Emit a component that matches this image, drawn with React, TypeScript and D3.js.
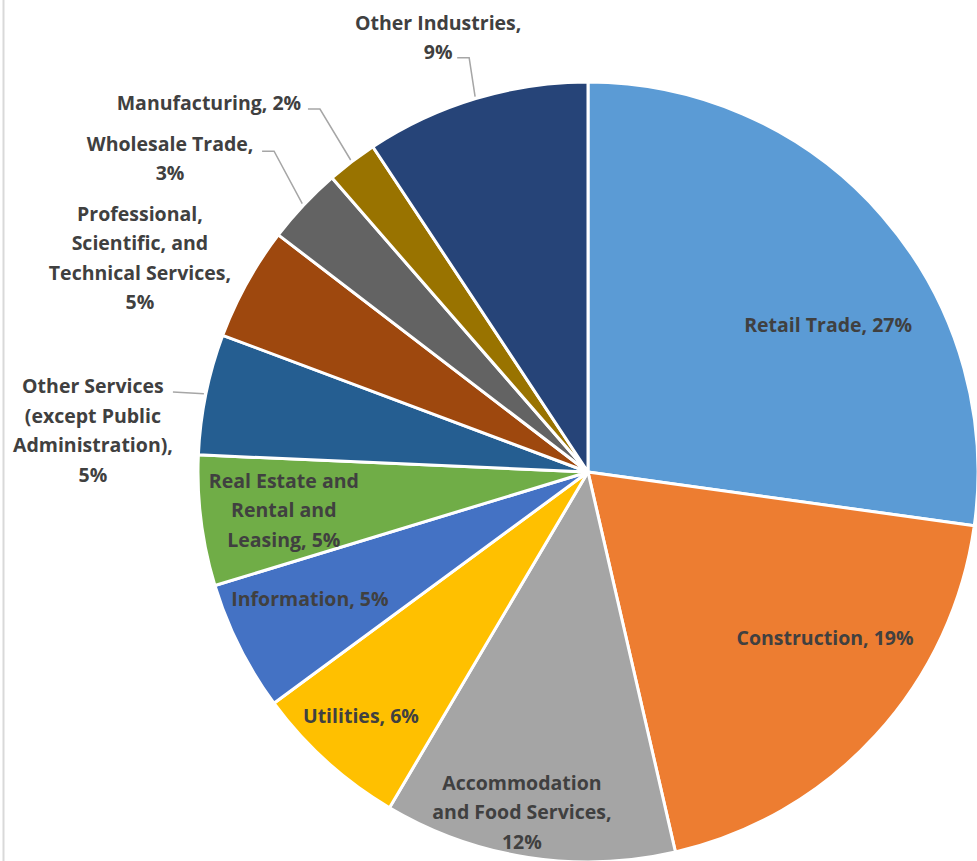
import React from "react";
import * as d3 from "d3";

const categories = [
  "Retail Trade",
  "Construction",
  "Accommodation and Food Services",
  "Utilities",
  "Information",
  "Real Estate and Rental and Leasing",
  "Other Services (except Public Administration)",
  "Professional, Scientific, and Technical Services",
  "Wholesale Trade",
  "Manufacturing",
  "Other Industries",
];
const values = [27.2, 19.2, 12.1, 6.4, 5.4, 5.4, 5.0, 4.7, 3.2, 2.1, 9.3];
const colors = [
  "#5B9BD5", "#ED7D31", "#A5A5A5", "#FFC000", "#4472C4", "#70AD47",
  "#255E91", "#9E480E", "#636363", "#997300", "#264478",
];
// label text broken into lines (last line gets the percentage appended)
const labelLines = [
  ["Retail Trade, "],
  ["Construction, "],
  ["Accommodation", "and Food Services,", ""],
  ["Utilities, "],
  ["Information, "],
  ["Real Estate and", "Rental and", "Leasing, "],
  ["Other Services", "(except Public", "Administration),", ""],
  ["Professional,", "Scientific, and", "Technical Services,", ""],
  ["Wholesale Trade,", ""],
  ["Manufacturing, "],
  ["Other Industries,", ""],
];

// layout: label polar placement (deg clockwise from top, fraction of radius)
const labelAngle = [58.5, 125.0, 191.0, 223.05, 245.6, 262.9, 274.85, 295.6, 306.9, 314.3, 341.0];
const labelRadius = [0.722, 0.742, 0.888, 0.853, 0.783, 0.786, 1.274, 1.274, 1.34, 1.358, 1.18];
// leader start offsets relative to label centre (null = no leader); elbow length
const leaderStart: ([number, number, number] | null)[] = [
  null, null, null, null, null, null,
  [80, -38, 0], null, [92, -7, 12], [99, 7, 12], [19, 21, 12],
];

const W = 977;
const H = 861;
const CX = 588;
const CY = 472;
const R = 390;
const LINE_H = 29.5;

export default function App() {
  const pie = d3.pie<number>().sort(null).value((d) => d);
  const arcs = pie(values);
  const arcGen = d3.arc<d3.PieArcDatum<number>>().innerRadius(0).outerRadius(R);
  const rad = (deg: number) => (deg * Math.PI) / 180;
  const polar = (deg: number, r: number): [number, number] => [
    CX + r * Math.sin(rad(deg)),
    CY - r * Math.cos(rad(deg)),
  ];

  return (
    <svg
      width={W}
      height={H}
      style={{ position: "absolute", left: 0, top: 0, background: "#fff" }}
      fontFamily="'Open Sans', 'Noto Sans', sans-serif"
    >
      <line x1={3.5} x2={3.5} y1={0} y2={H} stroke="#D9D9D9" strokeWidth={2} />
      <g transform={`translate(${CX},${CY})`}>
        {arcs.map((a, i) => (
          <path key={i} d={arcGen(a) || ""} fill={colors[i]} stroke="#fff" strokeWidth={3} strokeLinejoin="round" />
        ))}
      </g>
      {arcs.map((a, i) => {
        const ls = leaderStart[i];
        if (!ls) return null;
        const [lx, ly] = polar(labelAngle[i], labelRadius[i] * R);
        const mid = ((a.startAngle + a.endAngle) / 2) * (180 / Math.PI);
        const [ex, ey] = polar(mid, R + 2);
        const sx = lx + ls[0];
        const sy = ly + ls[1];
        const pts = ls[2] > 0 ? [[sx, sy], [sx + ls[2], sy], [ex, ey]] : [[sx, sy], [ex, ey]];
        return (
          <polyline
            key={"l" + i}
            points={pts.map((p) => p.join(",")).join(" ")}
            fill="none"
            stroke="#A6A6A6"
            strokeWidth={1.5}
          />
        );
      })}
      {arcs.map((a, i) => {
        const [lx, ly] = polar(labelAngle[i], labelRadius[i] * R);
        const lines = labelLines[i].slice();
        const pct = Math.round(values[i]) + "%";
        lines[lines.length - 1] = lines[lines.length - 1] + pct;
        const y0 = ly - ((lines.length - 1) * LINE_H) / 2;
        return (
          <text
            key={"t" + i}
            x={lx}
            textAnchor="middle"
            fontSize={19.5}
            fontWeight={700}
            fill="#404040"
          >
            {lines.map((t, j) => (
              <tspan key={j} x={lx} y={y0 + j * LINE_H} dominantBaseline="central">
                {t}
              </tspan>
            ))}
          </text>
        );
      })}
    </svg>
  );
}
